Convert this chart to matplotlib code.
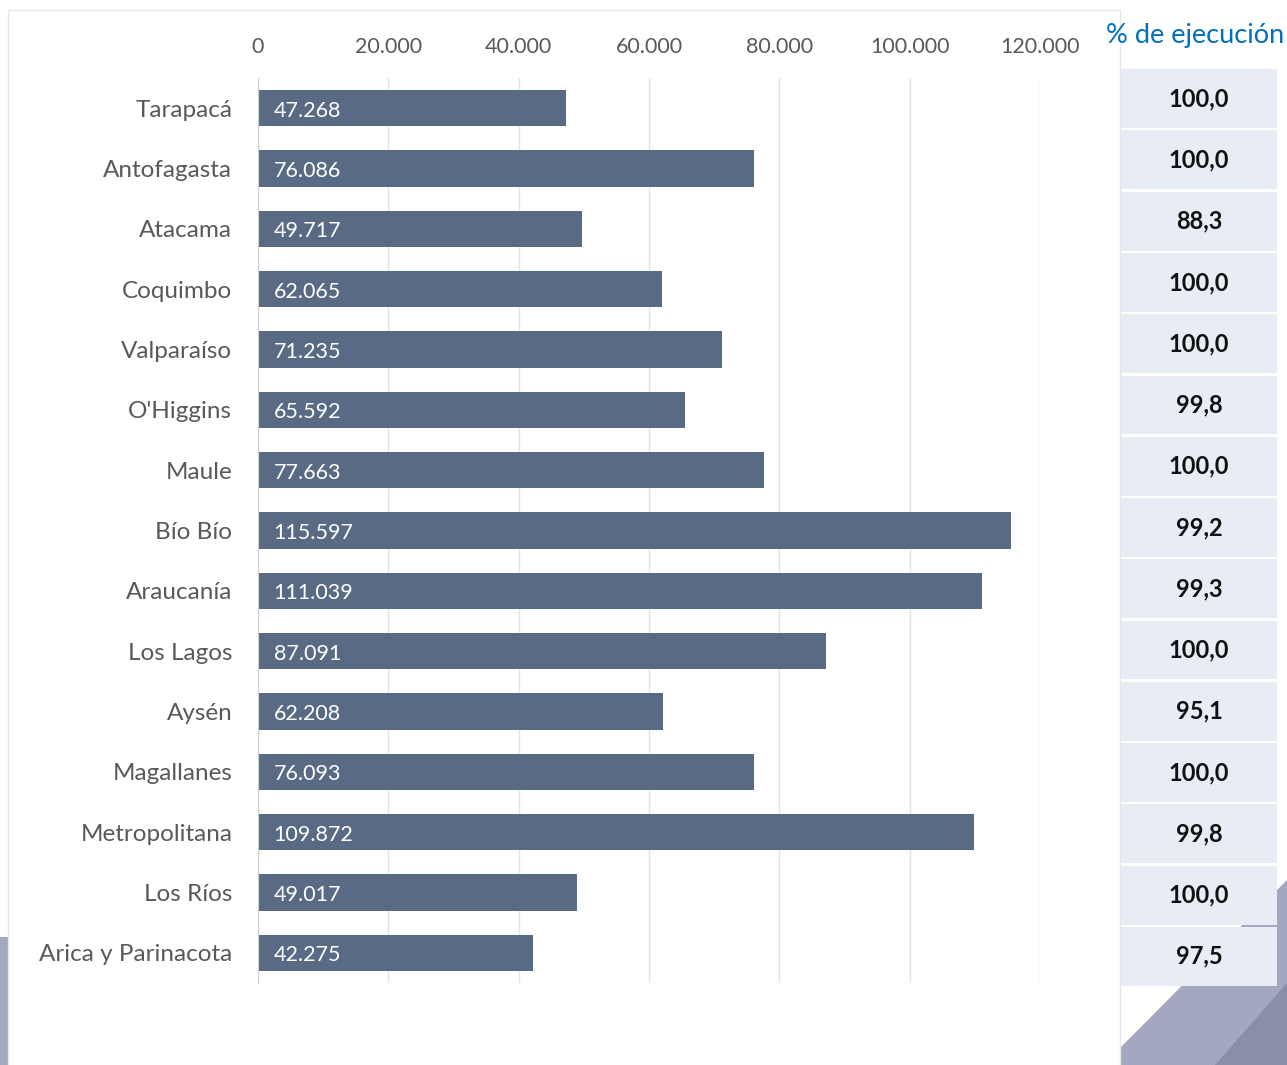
import numpy as np
import matplotlib.pyplot as plt
from matplotlib.patches import Rectangle, Polygon

plt.rcParams['font.family'] = ['Lato', 'DejaVu Sans']

regiones = ["Tarapacá", "Antofagasta", "Atacama", "Coquimbo", "Valparaíso",
            "O'Higgins", "Maule", "Bío Bío", "Araucanía", "Los Lagos",
            "Aysén", "Magallanes", "Metropolitana", "Los Ríos",
            "Arica y Parinacota"]
montos = [47268, 76086, 49717, 62065, 71235, 65592, 77663, 115597,
          111039, 87091, 62208, 76093, 109872, 49017, 42275]
ejecucion = ["100,0", "100,0", "88,3", "100,0", "100,0", "99,8", "100,0",
             "99,2", "99,3", "100,0", "95,1", "100,0", "99,8", "100,0", "97,5"]
ticks = [0, 20000, 40000, 60000, 80000, 100000, 120000]

W, H = 1287, 1065
fig = plt.figure(figsize=(W / 100, H / 100), dpi=100)

def px(x0, y0, x1, y1):
    # pixel box (top-left origin) -> figure fraction
    return [x0 / W, 1 - y1 / H, (x1 - x0) / W, (y1 - y0) / H]

# background decoration
bg = fig.add_axes([0, 0, 1, 1])
bg.set_xlim(0, W)
bg.set_ylim(H, 0)
bg.axis('off')
bg.add_patch(Polygon([(1121, 1065), (1121, 1047), (1287, 880), (1287, 1065)],
                     closed=True, color='#a3a7c0', lw=0))
bg.add_patch(Polygon([(1215, 1065), (1287, 983), (1287, 1065)],
                     closed=True, color='#8a8fa8', lw=0))
bg.add_patch(Rectangle((0, 937), 8, 128, color='#a3a7c0', lw=0))
bg.add_patch(Rectangle((8, 10), 1112, 1060, fill=False, ec='#e6e6e6', lw=1))

# bar chart
ax = fig.add_axes(px(258, 78, 1040, 983))
y = np.arange(len(regiones))
ax.barh(y, montos, height=0.6, color='#596a84')
ax.set_xlim(0, 120000)
ax.set_ylim(len(regiones) - 0.5, -0.5)
ax.set_xticks(ticks)
ax.set_xticklabels(["{:,}".format(t).replace(",", ".") for t in ticks])
ax.xaxis.tick_top()
ax.tick_params(axis='x', length=0, pad=15, labelsize=15.5, labelcolor='#595959')
ax.tick_params(axis='y', length=0, pad=18.5, labelsize=17.5, labelcolor='#595959')
ax.set_yticks(y)
ax.set_yticklabels(regiones)
ax.grid(axis='x', color='#e3e3e3', lw=1)
ax.set_axisbelow(True)
for s in ['top', 'right', 'bottom']:
    ax.spines[s].set_visible(False)
ax.spines['left'].set_color('#d0d0d0')
ax.set_facecolor('none')

for i, v in enumerate(montos):
    ax.text(2400, i + 0.04, "{:,}".format(v).replace(",", "."), va='center',
            ha='left', color='white', fontsize=15.5)

# execution table
fig.text(1195 / W, 1 - 36 / H, "% de ejecución", ha='center', va='center',
         color='#0070c0', fontsize=19.5)
tb = fig.add_axes(px(1121, 68, 1277, 987))
tb.set_xlim(0, 1)
tb.set_ylim(len(ejecucion), 0)
tb.axis('off')
for i, e in enumerate(ejecucion):
    tb.add_patch(Rectangle((0, i + 0.02), 1, 0.96, color='#e8ecf5', lw=0))
    tb.text(0.5, i + 0.5, e, ha='center', va='center', fontsize=17,
            fontweight='bold', color='#111111')

plt.savefig('out.png', dpi=100)
